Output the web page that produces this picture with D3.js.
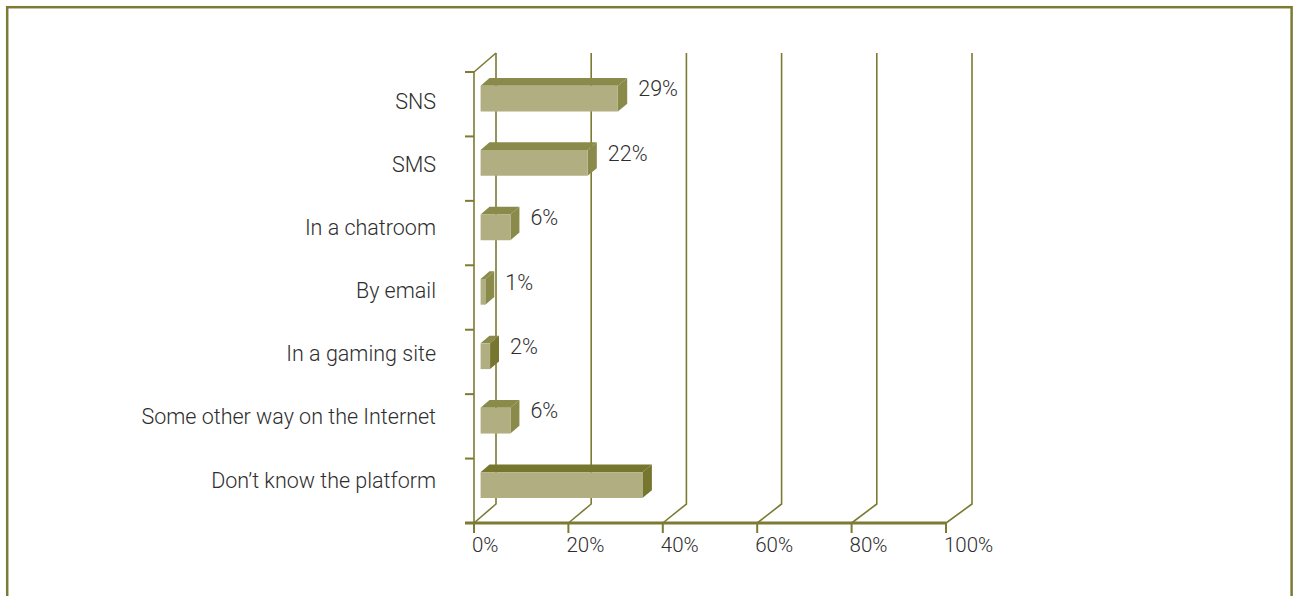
<!DOCTYPE html>
<html>
<head>
<meta charset="utf-8">
<script src="https://cdn.jsdelivr.net/npm/d3@7"></script>
<style>
    html, body { margin: 0; padding: 0; background: #fff; }
    svg { display: block; }
    text { font-family: Roboto, "Liberation Sans", Arial, sans-serif; font-weight: 300; fill: #2e2e2e; }
</style>
</head>
<body>
<div id="chart"></div>
<script>
const categories = [
    'SNS',
    'SMS',
    'In a chatroom',
    'By email',
    'In a gaming site',
    'Some other way on the Internet',
    'Don\u2019t know the platform'
];
// bar lengths; the printed labels are rounded
const values = [29, 22.6, 6.3, 1, 2, 6.3, 34.2];
const valueLabels = ['29%', '22%', '6%', '1%', '2%', '6%', null];
const tickValues = [0, 20, 40, 60, 80, 100];
const tickLabels = ['0%', '20%', '40%', '60%', '80%', '100%'];

const width = 1293;
const height = 596;
const olive = '#7b7b33';
const barFront = '#b1ae82';
const barShade = '#8a8a4b';
const barShadeDark = '#76762f';
// darker top / side faces in the original
const darkTop = new Set(['Don\u2019t know the platform']);
const darkSide = new Set(['In a gaming site', 'Don\u2019t know the platform']);

const svg = d3.select('#chart').append('svg')
    .attr('width', width)
    .attr('height', height);

// frame (bottom edge runs off the page)
svg.append('rect')
    .attr('x', 7.2)
    .attr('y', 7.2)
    .attr('width', 1284.4)
    .attr('height', 640)
    .attr('fill', 'none')
    .attr('stroke', olive)
    .attr('stroke-width', 2.5);

// front plane and back plane of the 3d box
const xFront = d3.scaleLinear().domain([0, 100]).range([474, 946]);
const xBack = d3.scaleLinear().domain([0, 100]).range([496, 972]);
const y = d3.scaleBand()
    .domain(categories)
    .range([72, 523])
    .paddingInner(0.6)
    .paddingOuter(0.3);
const depthY = 19;
const yTop = y.range()[0];
const yFloor = y.range()[1];

const proj = (v, yy, d) => [xFront(v) + d * (xBack(v) - xFront(v)), yy - d * depthY];

const line = d3.line();

// back wall gridlines + floor diagonals
const grid = svg.append('g').attr('fill', 'none').attr('stroke', olive);

grid.selectAll('path.wall')
    .data(tickValues)
    .join('path')
    .attr('class', 'wall')
    .attr('stroke-width', 1.6)
    .attr('d', t => line([proj(t, yFloor, 0), proj(t, yFloor, 1), proj(t, yTop, 1)]));

// left wall top edge
grid.append('path')
    .attr('stroke-width', 1.6)
    .attr('d', line([proj(0, yTop, 0), proj(0, yTop, 1)]));

// bars
const d0 = 0.3;
const d1 = 0.705;
const bars = svg.append('g')
    .selectAll('g.bar')
    .data(categories.map((c, i) => ({ name: c, value: values[i], label: valueLabels[i] })))
    .join('g')
    .attr('class', 'bar');

bars.append('path')
    .attr('fill', d => (darkTop.has(d.name) ? barShadeDark : barShade))
    .attr('d', d => {
        const top = y(d.name);
        return line([
            proj(0, top, d0), proj(d.value, top, d0),
            proj(d.value, top, d1), proj(0, top, d1)
        ]) + 'Z';
    });

bars.append('path')
    .attr('fill', d => (darkSide.has(d.name) ? barShadeDark : barShade))
    .attr('d', d => {
        const top = y(d.name);
        const bottom = top + y.bandwidth();
        return line([
            proj(d.value, top, d0), proj(d.value, top, d1),
            proj(d.value, bottom, d1), proj(d.value, bottom, d0)
        ]) + 'Z';
    });

bars.append('path')
    .attr('fill', barFront)
    .attr('d', d => {
        const top = y(d.name);
        const bottom = top + y.bandwidth();
        return line([
            proj(0, top, d0), proj(d.value, top, d0),
            proj(d.value, bottom, d0), proj(0, bottom, d0)
        ]) + 'Z';
    });

bars.filter(d => d.label)
    .append('text')
    .attr('x', d => proj(d.value, y(d.name), d1)[0] + 11)
    .attr('y', d => y(d.name) + 5)
    .attr('font-size', 21.5)
    .text(d => d.label);

// front axes
const axes = svg.append('g').attr('fill', 'none').attr('stroke', olive);

axes.append('path')
    .attr('stroke-width', 1.6)
    .attr('d', line([[xFront(0), yTop], [xFront(0), yFloor]]));

axes.append('path')
    .attr('stroke-width', 3)
    .attr('d', line([[xFront(0) - 9, yFloor], [xFront(100), yFloor]]));

axes.selectAll('path.ytick')
    .data(d3.range(categories.length + 1))
    .join('path')
    .attr('class', 'ytick')
    .attr('stroke-width', 2)
    .attr('d', i => {
        const yy = yTop + i * y.step();
        return line([[xFront(0) - 9, yy], [xFront(0), yy]]);
    });

axes.selectAll('path.xtick')
    .data(tickValues)
    .join('path')
    .attr('class', 'xtick')
    .attr('stroke-width', 2)
    .attr('d', t => line([[xFront(t), yFloor], [xFront(t), yFloor + 10]]));

svg.append('g')
    .selectAll('text')
    .data(tickValues)
    .join('text')
    .attr('x', t => xFront(t) - 2)
    .attr('y', 552)
    .attr('font-size', 20.5)
    .text((t, i) => tickLabels[i]);

// category labels
const yLabel = d3.scalePoint().domain(categories).range([109, 487.5]);

svg.append('g')
    .selectAll('text')
    .data(categories)
    .join('text')
    .attr('x', 436)
    .attr('y', c => yLabel(c))
    .attr('text-anchor', 'end')
    .attr('font-size', 21.5)
    .text(c => c);
</script>
</body>
</html>
